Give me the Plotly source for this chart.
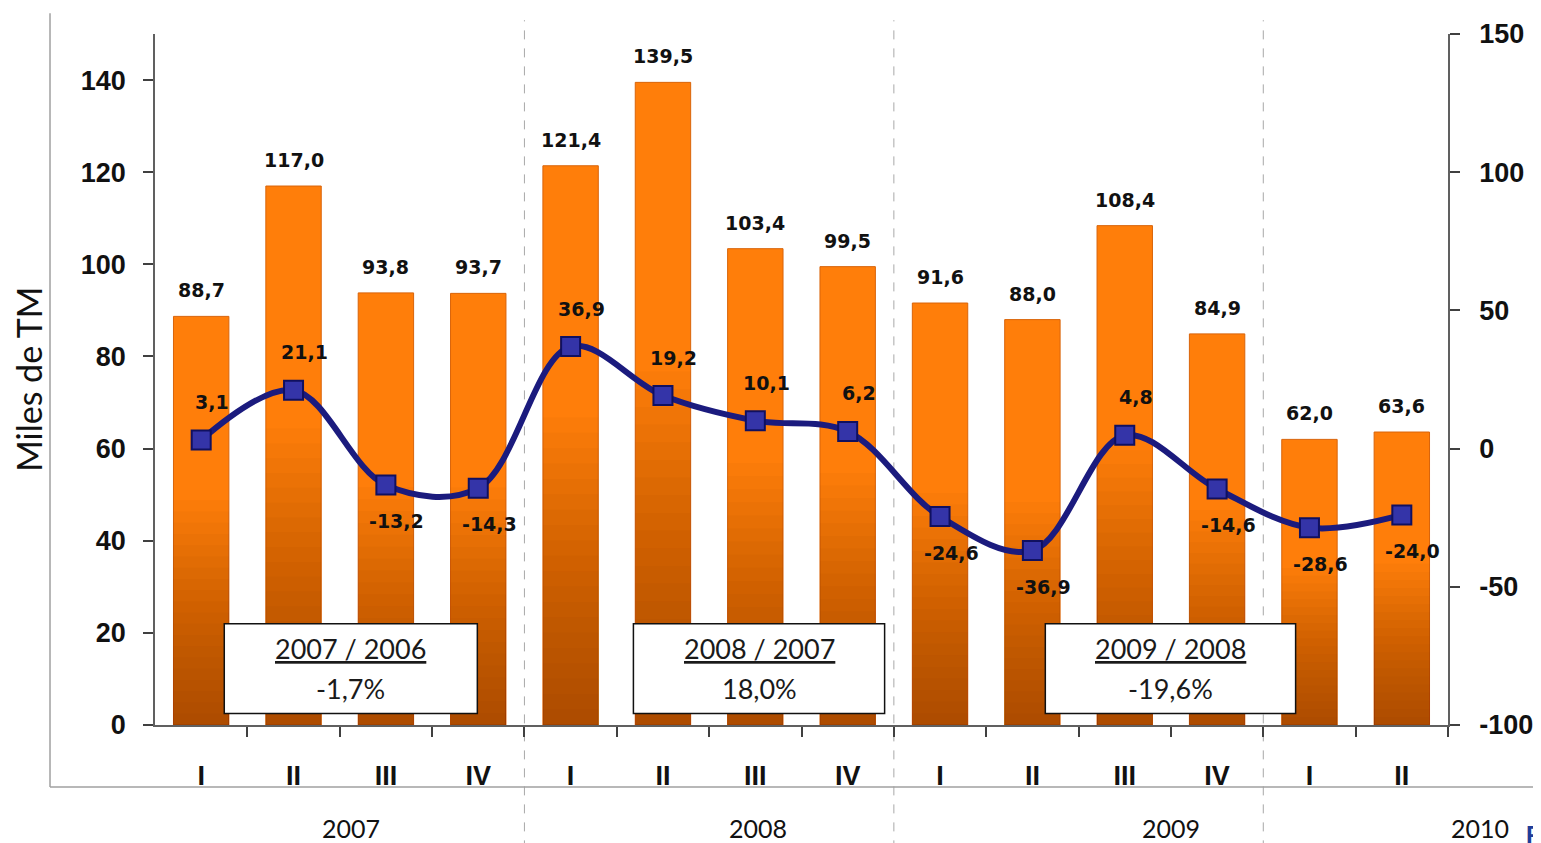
import plotly.graph_objects as go

quarters = ["I", "II", "III", "IV", "I", "II", "III", "IV", "I", "II", "III", "IV", "I", "II"]
volumes = [88.7, 117.0, 93.8, 93.7, 121.4, 139.5, 103.4, 99.5, 91.6, 88.0, 108.4, 84.9, 62.0, 63.6]
var_pct = [3.1, 21.1, -13.2, -14.3, 36.9, 19.2, 10.1, 6.2, -24.6, -36.9, 4.8, -14.6, -28.6, -24.0]
years = ["2007", "2008", "2009", "2010"]
year_pos = [1.62, 6.03, 10.5, 13.85]
box_titles = ["2007 / 2006", "2008 / 2007", "2009 / 2008"]
box_values = ["-1,7%", "18,0%", "-19,6%"]
box_pos = [(0.25, 2.99), (4.68, 7.40), (9.14, 11.85)]
year_breaks = [3.5, 7.5, 11.5]
left_ticks = list(range(0, 141, 20))
right_ticks = list(range(-100, 151, 50))

def fmt(v):
    return f"{v:.1f}".replace(".", ",")

x = list(range(len(quarters)))
n_cat = len(quarters)
fig = go.Figure()

fig.add_trace(go.Bar(
    x=x, y=volumes, width=0.6,
    marker=dict(color="#FF7E0A", line=dict(color="#D9640A", width=1)),
    hoverinfo="skip", showlegend=False,
))
# darker shading toward the bottom of every bar
n_layers = 20
for k in range(n_layers):
    f = 0.55 - 0.55 * k / n_layers
    fig.add_trace(go.Bar(
        x=x, y=[v * f for v in volumes], width=0.6,
        marker=dict(color="rgba(95,30,0,0.03)", line=dict(width=0)),
        hoverinfo="skip", showlegend=False,
    ))

fig.add_trace(go.Scatter(
    x=x, y=var_pct, yaxis="y2", mode="lines+markers",
    line=dict(color="#1B1B7E", width=6, shape="spline", smoothing=1.0),
    marker=dict(symbol="square", size=19, color="#3434A8",
                line=dict(color="#101060", width=2)),
    hoverinfo="skip", showlegend=False,
))

lblfont = dict(family="DejaVu Sans", size=19, color="#111111", weight="bold")
annotations = []
for i, v in enumerate(volumes):
    annotations.append(dict(
        x=i, y=v, xref="x", yref="y", text=fmt(v), showarrow=False,
        yanchor="bottom", yshift=13, font=lblfont,
    ))
for i, v in enumerate(var_pct):
    annotations.append(dict(
        x=i, y=v, xref="x", yref="y2", text=fmt(v), showarrow=False,
        xshift=11, yshift=38 if v >= 0 else -36, font=lblfont,
    ))
for (x0, x1), t, val in zip(box_pos, box_titles, box_values):
    xc = (x0 + x1) / 2
    annotations.append(dict(
        x=xc, y=16.7, xref="x", yref="y", text=f"<u>{t}</u>", showarrow=False,
        font=dict(family="Lato", size=27, color="#1A1A1A"),
    ))
    annotations.append(dict(
        x=xc, y=8.0, xref="x", yref="y", text=val, showarrow=False,
        font=dict(family="Lato", size=27, color="#1A1A1A"),
    ))
for yr, p in zip(years, year_pos):
    annotations.append(dict(
        x=(p + 0.5) / n_cat, y=-0.149, xref="paper", yref="paper", text=yr, showarrow=False,
        xanchor="center", yanchor="middle",
        font=dict(family="Lato", size=25, color="#111111"),
    ))
annotations.append(dict(
    x=1.059, y=-0.158, xref="paper", yref="paper", text="F", showarrow=False,
    xanchor="left", yanchor="middle",
    font=dict(family="Liberation Sans", size=24, color="#1F3C99", weight="bold"),
))
annotations.append(dict(
    x=-0.098, y=0.5, xref="paper", yref="paper", text="Miles de TM", showarrow=False,
    xanchor="center", yanchor="middle",
    textangle=-90, font=dict(family="Lato", size=34, color="#111111"),
))

shapes = []
for (x0, x1) in box_pos:
    shapes.append(dict(type="rect", xref="x", yref="y", x0=x0, x1=x1, y0=2.5, y1=22.0,
                       fillcolor="white", line=dict(color="#111111", width=1.5), layer="above"))
for b in year_breaks:
    shapes.append(dict(type="line", xref="x", yref="paper", x0=b, x1=b, y0=-0.18, y1=1.02,
                       line=dict(color="#A8A8A8", width=1, dash="dash"), layer="below"))
shapes.append(dict(type="line", xref="paper", yref="paper", x0=-0.0812, x1=-0.0812, y0=-0.0897, y1=1.03,
                   line=dict(color="#A0A0A0", width=1.5)))
shapes.append(dict(type="line", xref="paper", yref="paper", x0=-0.0812, x1=1.08, y0=-0.0897, y1=-0.0897,
                   line=dict(color="#A0A0A0", width=1.5)))

tickfont = dict(family="Liberation Sans", size=27, color="#111111", weight="bold")

# page body has an 8px margin: shrink the figure accordingly
fig.update_layout(
    width=1533, height=835,
    margin=dict(l=147, r=93, t=26, b=118, autoexpand=False),
    paper_bgcolor="white", plot_bgcolor="white",
    barmode="overlay", bargap=0.4,
    showlegend=False,
    annotations=annotations, shapes=shapes,
    xaxis=dict(
        range=[-0.5, 13.5], tickmode="array", tickvals=x, ticktext=quarters,
        ticks="", showgrid=False, zeroline=False, automargin=False,
        showline=True, linecolor="#606060", linewidth=1.5,
        tickfont=tickfont, ticklabelstandoff=26,
        minor=dict(tickmode="array", tickvals=[i + 0.5 for i in x], ticks="outside",
                   ticklen=10, tickcolor="#404040", tickwidth=1.5, showgrid=False),
    ),
    yaxis=dict(
        range=[0, 150], tickmode="array", tickvals=left_ticks,
        ticktext=[str(t) for t in left_ticks],
        ticks="outside", ticklen=10, tickcolor="#404040", tickwidth=1.5,
        showline=True, linecolor="#606060", linewidth=1.5, automargin=False,
        showgrid=False, zeroline=False, tickfont=tickfont, ticklabelstandoff=12,
    ),
    yaxis2=dict(
        range=[-100, 150], overlaying="y", side="right", tickmode="array",
        tickvals=right_ticks, ticktext=[str(t) for t in right_ticks], automargin=False,
        ticks="outside", ticklen=10, tickcolor="#404040", tickwidth=1.5,
        showline=True, linecolor="#606060", linewidth=1.5,
        showgrid=False, zeroline=False, tickfont=tickfont, ticklabelstandoff=14,
    ),
)

fig.write_html("out.html")
